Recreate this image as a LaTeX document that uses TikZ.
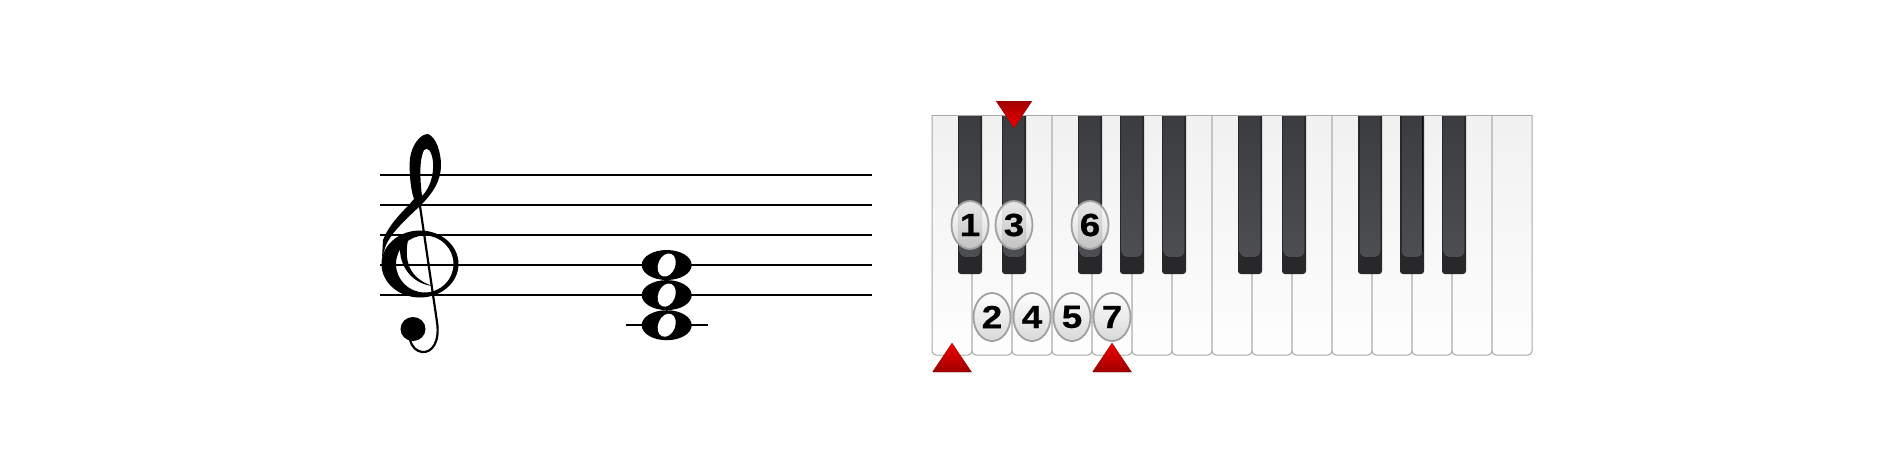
\documentclass[tikz,border=0pt]{standalone}
\usepackage{fontspec}
\setmainfont{Liberation Sans}
\newfontfamily\fingerfont[FakeStretch=1.15,FakeBold=0.6]{Liberation Sans Bold}
\usetikzlibrary{shapes.geometric}
\definecolor{wtop}{HTML}{F0F0F0}
\definecolor{wbot}{HTML}{FEFEFE}
\definecolor{keyborder}{HTML}{A8A8A8}
\definecolor{bkouter}{HTML}{28282B}
\definecolor{bktop}{HTML}{3A3B3E}
\definecolor{bkbot}{HTML}{4D4E52}
\definecolor{fingerborder}{HTML}{A0A0A0}
\definecolor{fingerbot}{HTML}{D4D4D4}
\definecolor{redtop}{HTML}{F00000}
\definecolor{redbot}{HTML}{A00000}
\tikzset{
  staffline/.style={line width=1pt, black},
  clefink/.style={fill=black, even odd rule},
  clefstem/.style={draw=black, line width=1.1pt},
  whitekey/.style={draw=keyborder, line width=0.5pt, top color=wtop, bottom color=wbot, rounded corners=2pt},
  blackkeyouter/.style={fill=bkouter, rounded corners=1.5pt},
  blackkeyinner/.style={top color=bktop, bottom color=bkbot, rounded corners=3pt},
  finger/.style={ellipse, draw=fingerborder, line width=0.9pt, top color=white, bottom color=fingerbot,
    fill opacity=0.88, text opacity=1, draw opacity=1,
    minimum width=18.5pt, minimum height=24pt, inner sep=0pt,
    font=\fingerfont\fontsize{16}{16}\selectfont, text=black},
  uptri/.style={top color=redtop, bottom color=redbot},
  downtri/.style={top color=redbot, bottom color=redtop},
}
\begin{document}
\begin{tikzpicture}[x=0.5pt,y=-0.5pt]
\useasboundingbox[fill=white] (0,0) rectangle (1888,467);
% staff
\foreach \yy in {174.7,204.8,234.9,265.0,295.1}
  \draw[staffline] (380,\yy) -- (872,\yy);
% ---- treble clef ----
% upper loop and diagonal
\fill[clefink] (428,134) .. controls (436,137) and (441,152) .. (441,165)
  .. controls (441,180) and (434,192) .. (420,206)
  .. controls (405,220) and (392,232) .. (386,245)
  -- (382,258) -- (383,240)
  .. controls (390,222) and (405,210) .. (414,199)
  .. controls (410,188) and (409,168) .. (410,158)
  .. controls (412,145) and (420,134) .. (428,134) -- cycle
  (422,196) .. controls (420,180) and (419,160) .. (424,150)
  .. controls (428,146) and (432,152) .. (433,162)
  .. controls (434,175) and (430,188) .. (422,196) -- cycle;
% body ring
\fill[clefink] (420,264) ellipse [x radius=38.5, y radius=33.5]
  (424.75,264) ellipse [x radius=28.75, y radius=28.5];
% inner curl
\fill[black] (401,240) .. controls (396,262) and (410,284) .. (433,286)
  .. controls (413,280) and (403,265) .. (408,240) -- cycle;
% stem with hook
\draw[clefstem] (415,172) -- (437,322) .. controls (440,342) and (432,353) .. (422,352)
  .. controls (416,351) and (412,347) .. (410,340);
% ball
\fill[black] (413,329) ellipse [x radius=12.5, y radius=12];
% ledger line
\draw[staffline] (626,325.2) -- (708,325.2);
% whole notes
\foreach \yy in {265.0,295.1,325.2} {
  \fill[black] (666.7,\yy) ellipse [x radius=25, y radius=15];
  \fill[white, rotate around={-22:(666.7,\yy)}] (666.7,\yy) ellipse [x radius=8.5, y radius=12];
}
% keyboard
\begin{scope}
  \clip (920,115) rectangle (1545,365);
  \foreach \i in {0,...,14}
    \draw[whitekey] ({932+40*\i},105) rectangle ({972+40*\i},355);
  \foreach \c in {970,1014,1090,1132,1174,1250,1294,1370,1412,1454} {
    \fill[blackkeyouter] ({\c-12},105) rectangle ({\c+12},274);
    \fill[blackkeyinner] ({\c-10.5},105) rectangle ({\c+10.5},257);
  }
\end{scope}
\draw[keyborder, line width=0.5pt] (932,115) -- (1532,115);
% fingering labels
\node[finger] (f1) at (970,225) {1};
\node[finger] (f3) at (1014,225) {3};
\node[finger] (f6) at (1090,225) {6};
\node[finger] (f2) at (992,317) {2};
\node[finger] (f4) at (1032,317) {4};
\node[finger] (f5) at (1072,317) {5};
\node[finger] (f7) at (1112,317) {7};
% red markers
\fill[downtri] (996,101) -- (1032,101) -- (1014,128) -- cycle;
\fill[uptri] (952,343) -- (971.5,372) -- (932.5,372) -- cycle;
\fill[uptri] (1112,343) -- (1131.5,372) -- (1092.5,372) -- cycle;
\end{tikzpicture}
\end{document}
